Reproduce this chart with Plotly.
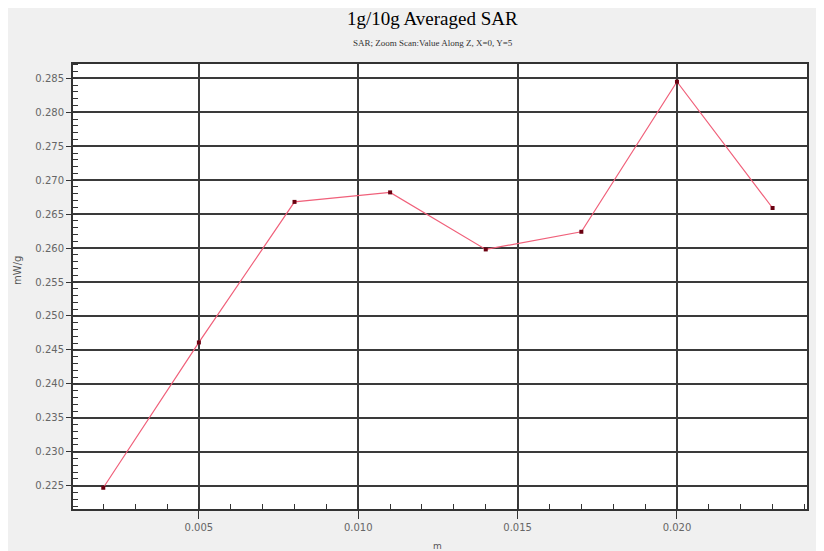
import plotly.graph_objects as go

# Data
z_m = [0.002, 0.005, 0.008, 0.011, 0.014, 0.017, 0.020, 0.023]
sar_mw_g = [0.2247, 0.2461, 0.2668, 0.2682, 0.2598, 0.2624, 0.2845, 0.2659]

title_text = "1g/10g Averaged SAR"
subtitle_text = "SAR; Zoom Scan:Value Along Z, X=0, Y=5"
x_label = "m"
y_label = "mW/g"

fig = go.Figure()
fig.add_trace(go.Scatter(
    x=z_m, y=sar_mw_g, mode="lines+markers",
    line=dict(color="#f0607a", width=1.2),
    marker=dict(color="#6a0010", size=4, symbol="square"),
    showlegend=False,
))

axis_common = dict(
    showline=True, mirror=True, linecolor="#333333", linewidth=2,
    showgrid=True, gridcolor="#3a3a3a", gridwidth=2,
    zeroline=False, ticks="outside", tickcolor="#333333", tickwidth=1,
    tickfont=dict(family="DejaVu Sans", size=10, color="#666666"),
    automargin=False,
)

fig.update_xaxes(
    range=[0.00105, 0.02408], tick0=0, dtick=0.005, tickformat=".3f",
    ticklen=8,
    minor=dict(dtick=0.001, tick0=0, ticks="inside", ticklen=5,
               tickcolor="#333333", showgrid=False),
    **axis_common,
)
fig.update_yaxes(
    range=[0.22157, 0.28711], tick0=0.225, dtick=0.005, tickformat=".3f",
    ticklen=5,
    minor=dict(dtick=0.001, tick0=0, ticks="inside", ticklen=5,
               tickcolor="#333333", showgrid=False),
    **axis_common,
)

# The page body adds an 8px offset; the figure is sized to compensate.
fig.update_layout(
    width=816, height=543,
    margin=dict(l=65, r=17, t=56, b=42),
    paper_bgcolor="#f0f0f0", plot_bgcolor="#ffffff",
    annotations=[
        dict(text=title_text, xref="paper", yref="paper", x=0.49, y=1,
             yanchor="bottom", yshift=33, showarrow=False,
             font=dict(family="Liberation Serif", size=19, color="#000000")),
        dict(text=subtitle_text, xref="paper", yref="paper", x=0.49, y=1,
             yanchor="bottom", yshift=14, showarrow=False,
             font=dict(family="Liberation Serif", size=9, color="#333333")),
        dict(text=x_label, xref="paper", yref="paper", x=0.497, y=0,
             yanchor="top", yshift=-30, showarrow=False,
             font=dict(family="DejaVu Sans", size=9, color="#555555")),
        dict(text=y_label, xref="paper", yref="paper", x=0, y=0.535,
             xanchor="center", xshift=-55, textangle=-90, showarrow=False,
             font=dict(family="DejaVu Sans", size=10, color="#555555")),
    ],
)

fig.write_html("out.html")
